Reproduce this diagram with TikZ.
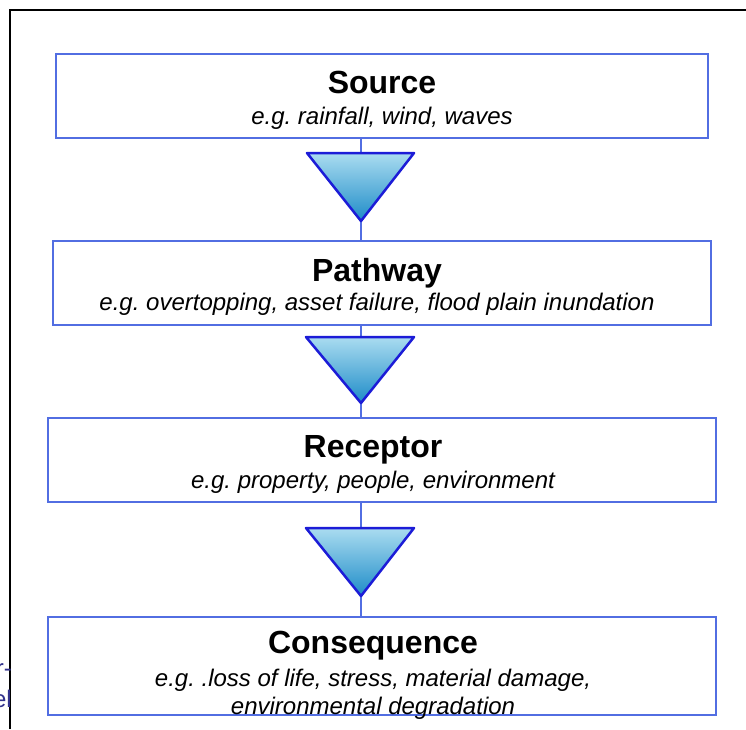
\documentclass[tikz,border=0pt]{standalone}
\usepackage{fontspec}
\setmainfont{Liberation Sans}
\definecolor{boxblue}{RGB}{82,110,226}
\definecolor{tribord}{RGB}{28,28,215}
\definecolor{trtop}{RGB}{170,220,240}
\definecolor{trbot}{RGB}{30,140,200}
\definecolor{fragblue}{RGB}{50,50,140}
\begin{document}
\frenchspacing
\begin{tikzpicture}[x=1pt,y=-1pt,
  stagebox/.style={draw=boxblue, line width=2pt, fill=white, rectangle, inner sep=0pt},
  titletext/.style={anchor=base, inner sep=0pt, font=\fontsize{32}{36}\selectfont\bfseries},
  subtext/.style={anchor=base, inner sep=0pt, font=\fontsize{24}{28}\selectfont\itshape},
  link/.style={draw=boxblue, line width=1.5pt},
  tri/.style={draw=tribord, line width=2.5pt, line join=round, top color=trtop, bottom color=trbot},
  frag/.style={anchor=base east, inner sep=0pt, text=fragblue, font=\fontsize{24}{28}\selectfont}
]
\useasboundingbox (0,0) rectangle (746,729);
\fill[white] (0,0) rectangle (746,729);
% frame
\draw[black, line width=1.5pt] (10,729) -- (10,10) -- (746,10);
% fragments of cut-off text at the left edge
\begin{scope}
\clip (0,600) rectangle (10.5,729);
\node[frag] (fr1) at (12,676) {r-};
\node[frag] (fr2) at (12,707) {el};
\end{scope}

% boxes
\node[stagebox, minimum width=652pt, minimum height=84pt] (src) at (382,96) {};
\node[stagebox, minimum width=658pt, minimum height=84pt] (pth) at (382,282.5) {};
\node[stagebox, minimum width=668pt, minimum height=84pt] (rcp) at (381.5,459.5) {};
\node[stagebox, minimum width=668pt, minimum height=98pt] (csq) at (381.5,665.5) {};

% triangles
\coordinate (t1a) at (307,153); \coordinate (t1b) at (414,153); \coordinate (t1c) at (361,221);
\coordinate (t1m) at (361,153);
\coordinate (t2a) at (306,337); \coordinate (t2b) at (414,337); \coordinate (t2c) at (361,403);
\coordinate (t2m) at (361,337);
\coordinate (t3a) at (306,528); \coordinate (t3b) at (414,528); \coordinate (t3c) at (361,596);
\coordinate (t3m) at (361,528);

\draw[link] (src.south -| t1m) -- (t1m);
\draw[link] (t1c) -- (pth.north -| t1c);
\draw[link] (pth.south -| t2m) -- (t2m);
\draw[link] (t2c) -- (rcp.north -| t2c);
\draw[link] (rcp.south -| t3m) -- (t3m);
\draw[link] (t3c) -- (csq.north -| t3c);

\draw[tri] (t1a) -- (t1b) -- (t1c) -- cycle;
\draw[tri] (t2a) -- (t2b) -- (t2c) -- cycle;
\draw[tri] (t3a) -- (t3b) -- (t3c) -- cycle;

% texts
\node[titletext] (srct) at (382,93) {Source};
\node[subtext] (srcs) at (382,124) {e.g. rainfall, wind, waves};
\node[titletext] (ptht) at (377,281) {Pathway};
\node[subtext] (pths) at (377,310) {e.g. overtopping, asset failure, flood plain inundation};
\node[titletext] (rcpt) at (373,457) {Receptor};
\node[subtext] (rcps) at (373,488) {e.g. property, people, environment};
\node[titletext] (csqt) at (373,653) {Consequence};
\node[subtext] (csqs) at (373,686) {e.g. .loss of life, stress, material damage,};
\node[subtext] (csqu) at (373,714) {environmental degradation};
\end{tikzpicture}
\end{document}
